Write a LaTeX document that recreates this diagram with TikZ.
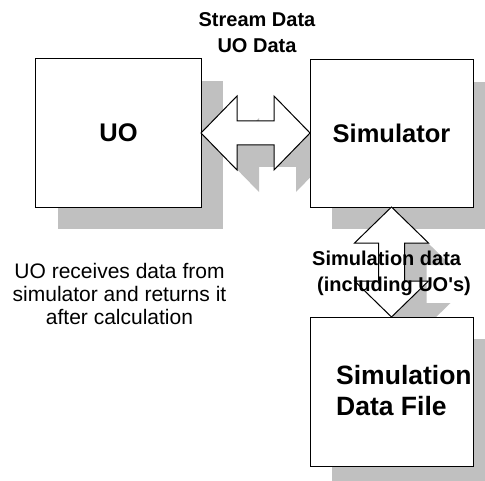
\documentclass[tikz,border=0pt]{standalone}
\usepackage{fontspec}
\setmainfont{Liberation Sans}
\usetikzlibrary{calc}
\pgfdeclarelayer{shadow}
\pgfsetlayers{shadow,main}
\definecolor{shadowgray}{RGB}{192,192,192}
\tikzset{
  box/.style={draw=black, fill=white, line width=1bp, inner sep=0pt, outer sep=0pt},
  blockarrow/.style={draw=black, fill=white, line width=1bp, line join=miter},
  dropshade/.style={fill=shadowgray, draw=none},
  bigtext/.style={font=\bfseries\fontsize{25.5bp}{30bp}\selectfont},
  filetext/.style={font=\bfseries\fontsize{26.5bp}{31bp}\selectfont, inner sep=0pt, align=left},
  smalltext/.style={font=\bfseries\fontsize{20bp}{26bp}\selectfont, inner sep=0pt},
  notetext/.style={font=\fontsize{21bp}{23bp}\selectfont, inner sep=0pt, align=center},
  % left-right block arrow between two tip points
  harrowpath/.style 2 args={insert path={
    (#1) -- ($(#1)+(36,-37)$) -- ($(#1)+(36,-12)$) -- ($(#2)+(-36,-12)$)
    -- ($(#2)+(-36,-37)$) -- (#2) -- ($(#2)+(-36,37)$) -- ($(#2)+(-36,12)$)
    -- ($(#1)+(36,12)$) -- ($(#1)+(36,37)$) -- cycle}},
  % up-down block arrow between two tip points
  varrowpath/.style 2 args={insert path={
    (#1) -- ($(#1)+(37,36)$) -- ($(#1)+(13,36)$) -- ($(#2)+(13,-36)$)
    -- ($(#2)+(37,-36)$) -- (#2) -- ($(#2)+(-37,-36)$) -- ($(#2)+(-13,-36)$)
    -- ($(#1)+(-13,36)$) -- ($(#1)+(-37,36)$) -- cycle}},
}
\begin{document}
\begin{tikzpicture}[x=1bp,y=-1bp]
\useasboundingbox (0,0) rectangle (485,481);

% boxes
\node[box, minimum width=165bp, minimum height=148bp, bigtext] (uo) at (118.5,133) {UO};
\node[box, minimum width=163bp, minimum height=147bp, bigtext] (sim) at (391.5,133.5) {Simulator};
\node[box, minimum width=163bp, minimum height=149bp] (file) at (391.5,391.5) {};

% arrow tips
\coordinate (hA) at (uo.east);
\coordinate (hB) at (sim.west |- uo.east);
\coordinate (vA) at (sim.south);
\coordinate (vB) at (file.north);

% drop shadows
\begin{pgfonlayer}{shadow}
  \fill[white] (0,0) rectangle (485,481);
  \foreach \b in {uo,sim,file}
    \fill[dropshade] ($(\b.north west)+(22,22)$) rectangle ($(\b.south east)+(22,22)$);
  \coordinate (hAs) at ($(hA)+(22,22)$);
  \coordinate (hBs) at ($(hB)+(22,22)$);
  \coordinate (vAs) at ($(vA)+(22,22)$);
  \coordinate (vBs) at ($(vB)+(22,22)$);
  \fill[dropshade, harrowpath={hAs}{hBs}];
  \fill[dropshade, varrowpath={vAs}{vBs}];
\end{pgfonlayer}

% block arrows
\draw[blockarrow, harrowpath={hA}{hB}];
\draw[blockarrow, varrowpath={vA}{vB}];

% labels
\node[smalltext, align=center] (streamlbl) at (257,33) {Stream Data\\UO Data};
\node[smalltext, align=left, anchor=west] (simdatalbl) at (312,273)
  {Simulation data\\\hspace*{5bp}(including UO\textquotesingle s)};
\node[filetext, anchor=west] (filelbl) at (336,390.5) {Simulation\\Data File};
\node[notetext] (note) at (119.5,294.4)
  {UO receives data from\\simulator and returns it\\after calculation};
\end{tikzpicture}
\end{document}
